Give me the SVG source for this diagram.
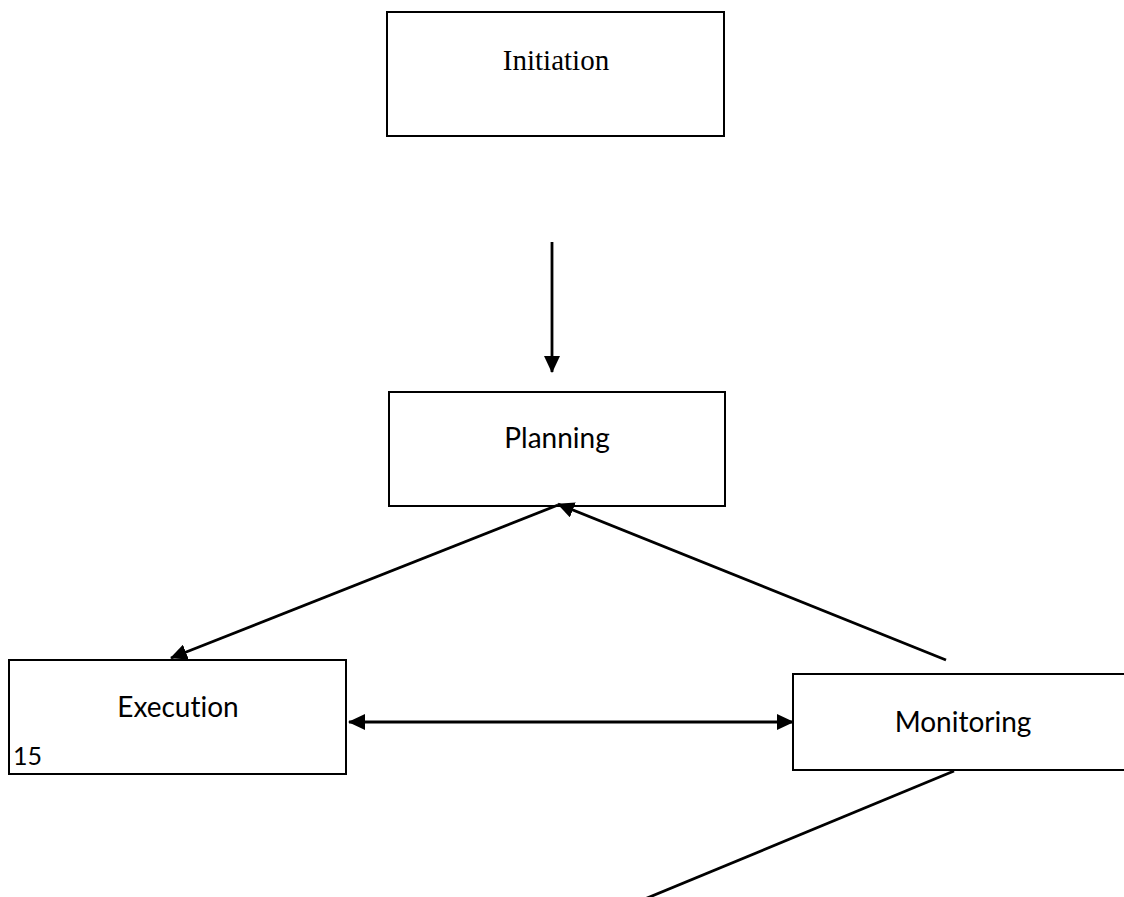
<svg xmlns="http://www.w3.org/2000/svg" width="1124" height="897" viewBox="0 0 1124 897">
<style>
.box{fill:#fff;stroke:#000;stroke-width:2}
.lbl{font-family:"Lato","Liberation Sans",sans-serif;font-size:28px;fill:#000;text-anchor:middle;font-variant-ligatures:none}
.ser{font-family:"Liberation Serif",serif;font-size:29px;fill:#000;text-anchor:middle}
.con{stroke:#000;stroke-width:2.8;fill:none}
</style>
<defs>
<marker id="ah" markerUnits="userSpaceOnUse" markerWidth="17" markerHeight="16" viewBox="0 0 17 16" refX="16" refY="8" orient="auto-start-reverse">
<path d="M0,0 L17,8 L0,16 z" fill="#000"/>
</marker>
</defs>
<rect width="1124" height="897" fill="#fff"/>
<g id="initiation">
<rect class="box" x="387" y="12" width="337" height="124"/>
<text class="ser" x="556" y="70">Initiation</text>
</g>
<g id="planning">
<rect class="box" x="389" y="392" width="336" height="114"/>
<text class="lbl" x="557" y="448">Planning</text>
</g>
<g id="execution">
<rect class="box" x="9" y="660" width="337" height="114"/>
<text class="lbl" x="178" y="717">Execution</text>
<text x="13" y="765" style="font-family:'Lato','Liberation Sans',sans-serif;font-size:25px;fill:#000">15</text>
</g>
<g id="monitoring">
<rect class="box" x="793" y="674" width="340" height="96"/>
<text class="lbl" x="963" y="732">Monitoring</text>
</g>
<g id="connectors">
<line class="con" x1="552" y1="242" x2="552" y2="372" marker-end="url(#ah)"/>
<line class="con" x1="558" y1="505" x2="171" y2="658" marker-end="url(#ah)"/>
<line class="con" x1="946" y1="660" x2="558" y2="504" marker-end="url(#ah)"/>
<line class="con" x1="349" y1="722" x2="793" y2="722" marker-start="url(#ah)" marker-end="url(#ah)"/>
<line class="con" x1="954" y1="771" x2="623" y2="908"/>
</g>
</svg>
